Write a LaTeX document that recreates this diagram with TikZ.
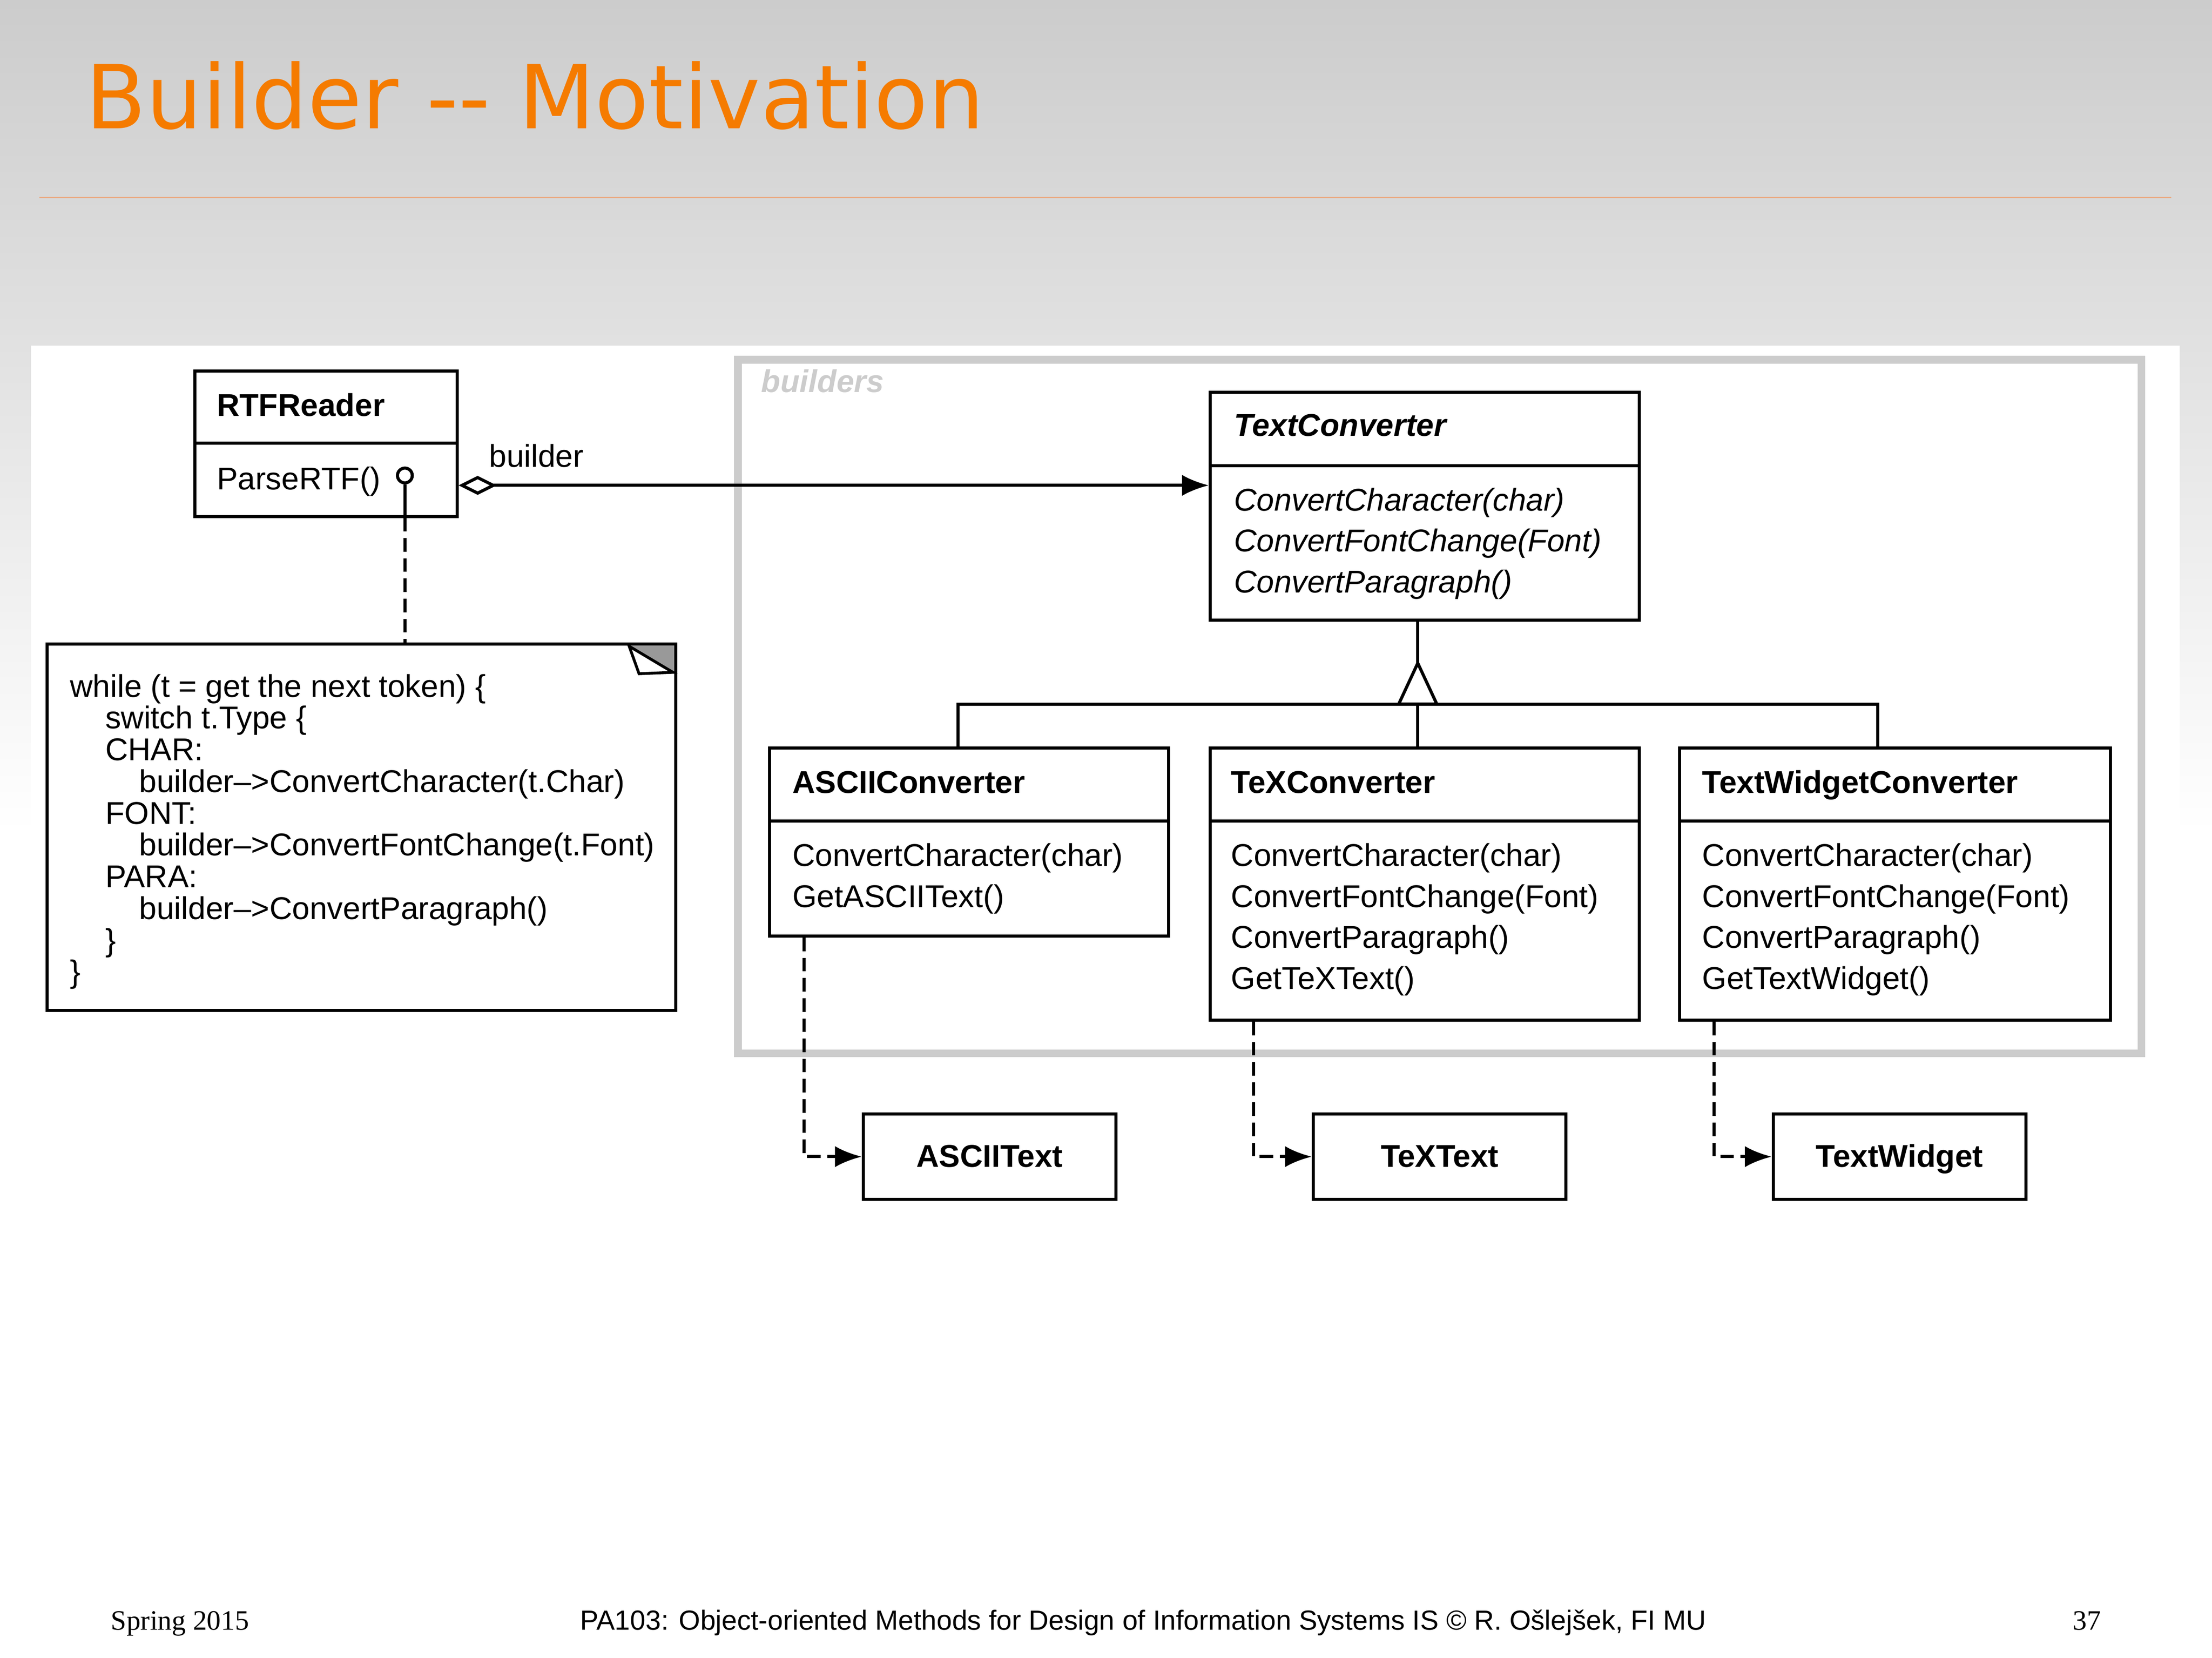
\documentclass[tikz,border=0pt]{standalone}
\usepackage{fontspec}
\setmainfont{Liberation Sans}
\newfontfamily\titlefont{DejaVu Sans}
\newfontfamily\footserif{Liberation Serif}
\usetikzlibrary{arrows.meta,fit}
\definecolor{slidetop}{RGB}{204,204,204}
\definecolor{titleorange}{RGB}{245,123,0}
\definecolor{rulecol}{RGB}{233,170,130}
\definecolor{framegray}{RGB}{204,204,204}
\definecolor{notegray}{RGB}{153,153,153}
\newcommand\umlclass[6]{%
  \coordinate (#1-a) at (#2,#3);
  \coordinate (#1-b) at (#4,#5);
  \node[boxfit, fit=(#1-a)(#1-b)] (#1) {};
  \draw[umlline] (#2,#6) -- (#4,#6);
}
\begin{document}
\begin{tikzpicture}[x=0.1mm,y=-0.1mm,
  umlline/.style={line width=0.22mm, black},
  boxfit/.style={draw, umlline, inner sep=0pt, fill=white},
  txt/.style={inner sep=0pt, anchor=base west, font=\fontsize{6.35pt}{6.43pt}\selectfont},
  cname/.style={txt, font=\fontsize{6.35pt}{6.43pt}\selectfont\bfseries},
  aname/.style={txt, font=\fontsize{6.35pt}{6.43pt}\selectfont\bfseries\itshape},
  ameth/.style={txt, font=\fontsize{6.35pt}{6.43pt}\selectfont\itshape},
  dep/.style={umlline, dash pattern=on 0.96mm off 0.47mm, -{Latex[length=1.9mm,width=1.5mm]}},
]
% ---------- slide background ----------
\fill[white] (0,0) rectangle (1568,1175);
\shade[top color=slidetop, bottom color=white] (0,0) rectangle (1568,590);
\draw[rulecol, line width=0.07mm] (28,140) -- (1539,140);
\node[anchor=base west, inner sep=0pt, text=titleorange,
      font=\titlefont\fontsize{17.84pt}{20pt}\selectfont] (title) at (60,91) {Builder -{}- Motivation};
% ---------- image panel ----------
\fill[white] (22,245) rectangle (1545,1000);
\coordinate (pkg-a) at (523,255);
\coordinate (pkg-b) at (1518,746.5);
\node[draw=framegray, line width=0.55mm, inner sep=0pt, fit=(pkg-a)(pkg-b)] (pkg) {};
\node[txt, text=framegray, font=\fontsize{6.35pt}{6.43pt}\selectfont\bfseries\itshape] (pkgname) at (539,278) {builders};
% ---------- classes ----------
\umlclass{rtf}{138}{263}{324}{366}{314}
\node[cname] (rtf-n) at (153,295) {RTFReader};
\node[txt] (rtf-m1) at (153,347) {ParseRTF()};

\umlclass{tc}{858}{278}{1162}{439.5}{330}
\node[aname] (tc-n) at (874,309) {TextConverter};
\node[ameth] (tc-m1) at (874,362) {ConvertCharacter(char)};
\node[ameth] (tc-m2) at (874,391) {ConvertFontChange(Font)};
\node[ameth] (tc-m3) at (874,420) {ConvertParagraph()};

\umlclass{asciic}{545.5}{530}{828.5}{663.5}{582}
\node[cname] (asciic-n) at (561,562) {ASCIIConverter};
\node[txt] (asciic-m1) at (561,614) {ConvertCharacter(char)};
\node[txt] (asciic-m2) at (561,643) {GetASCIIText()};

\umlclass{texc}{858}{530}{1162}{723}{582}
\node[cname] (texc-n) at (872,562) {TeXConverter};
\node[txt] (texc-m1) at (872,614) {ConvertCharacter(char)};
\node[txt] (texc-m2) at (872,643) {ConvertFontChange(Font)};
\node[txt] (texc-m3) at (872,672) {ConvertParagraph()};
\node[txt] (texc-m4) at (872,701) {GetTeXText()};

\umlclass{twc}{1190.5}{530}{1496}{723}{582}
\node[cname] (twc-n) at (1206,562) {TextWidgetConverter};
\node[txt] (twc-m1) at (1206,614) {ConvertCharacter(char)};
\node[txt] (twc-m2) at (1206,643) {ConvertFontChange(Font)};
\node[txt] (twc-m3) at (1206,672) {ConvertParagraph()};
\node[txt] (twc-m4) at (1206,701) {GetTextWidget()};

% product boxes
\coordinate (at-a) at (612,789.5); \coordinate (at-b) at (791,850);
\node[boxfit, fit=(at-a)(at-b)] (asciitext) {};
\node[cname, anchor=base] (asciitext-n) at (701.5,827) {ASCIIText};
\coordinate (tt-a) at (931,789.5); \coordinate (tt-b) at (1110,850);
\node[boxfit, fit=(tt-a)(tt-b)] (textext) {};
\node[cname, anchor=base] (textext-n) at (1020.5,827) {TeXText};
\coordinate (tw-a) at (1257,789.5); \coordinate (tw-b) at (1436,850);
\node[boxfit, fit=(tw-a)(tw-b)] (twtext) {};
\node[cname, anchor=base] (twtext-n) at (1346.5,827) {TextWidget};

% ---------- note ----------
\coordinate (note-a) at (33.5,456.5); \coordinate (note-b) at (479,716);
\node[boxfit, fit=(note-a)(note-b)] (note) {};
\fill[notegray] (445,457.4) -- (478,457.4) -- (478,477) -- cycle;
\draw[line width=0.2mm, fill=white, line join=miter] (446,458) -- (453,477.5) -- (477,476.5) -- cycle;
\node[txt] (nl1) at (49,494) {while (t = get the next token) \{};
\node[txt] (nl2) at (74,516.5) {switch t.Type \{};
\node[txt] (nl3) at (74,539) {CHAR:};
\node[txt] (nl4) at (98,561.5) {builder–>ConvertCharacter(t.Char)};
\node[txt] (nl5) at (74,584) {FONT:};
\node[txt] (nl6) at (98,606.5) {builder–>ConvertFontChange(t.Font)};
\node[txt] (nl7) at (74,629) {PARA:};
\node[txt] (nl8) at (98,651.5) {builder–>ConvertParagraph()};
\node[txt] (nl9) at (74,674) {\}};
\node[txt] (nl10) at (49,696.5) {\}};

% ---------- connectors ----------
% lollipop + note link
\node[circle, draw, umlline, fill=white, minimum size=1.05mm, inner sep=0pt] (lolli) at (287,337) {};
\draw[umlline] (lolli.south) -- (lolli |- rtf.south);
\draw[umlline, dash pattern=on 0.96mm off 0.47mm] (lolli |- rtf.south) -- (lolli |- note.north);
% aggregation builder
\coordinate (aggy) at (600,344);
\draw[umlline, {Diamond[length=2.7mm,width=1.35mm,fill=white]}-{Latex[length=1.9mm,width=1.5mm]}]
  (rtf.east |- aggy) -- (tc.west |- aggy);
\node[txt] (builderlbl) at (346,331) {builder};
% inheritance
\coordinate (apex) at (1005,470);
\coordinate (busA) at (679,499);
\coordinate (busB) at (1005,499);
\coordinate (busC) at (1331,499);
\draw[umlline] (tc.south -| apex) -- (apex);
\draw[umlline, fill=white] (apex) -- (991.5,499) -- (1018.5,499) -- cycle;
\draw[umlline] (asciic.north -| busA) -- (busA) -- (busC) -- (twc.north -| busC);
\draw[umlline] (busB) -- (texc.north -| busB);
% creates / dependencies
\coordinate (depA) at (570,819);
\coordinate (depB) at (888.5,819);
\coordinate (depC) at (1215,819);
\draw[dep] (asciic.south -| depA) |- (asciitext.west);
\draw[dep] (texc.south -| depB) |- (textext.west);
\draw[dep] (twc.south -| depC) |- (twtext.west);

% ---------- footer ----------
\node[anchor=base west, inner sep=0pt, font=\footserif\fontsize{5.66pt}{6.5pt}\selectfont] (foot-l) at (78,1155) {Spring 2015};
\node[anchor=base west, inner sep=0pt, font=\fontsize{5.57pt}{6.5pt}\selectfont] (foot-c) at (410.5,1155) {PA103: Object-oriented Methods for Design of Information Systems IS © R. Ošlejšek, FI MU};
\node[anchor=base east, inner sep=0pt, font=\footserif\fontsize{5.66pt}{6.5pt}\selectfont] (foot-r) at (1490,1155) {37};
\useasboundingbox (0,0) rectangle (1568,1175);
\end{tikzpicture}
\end{document}
